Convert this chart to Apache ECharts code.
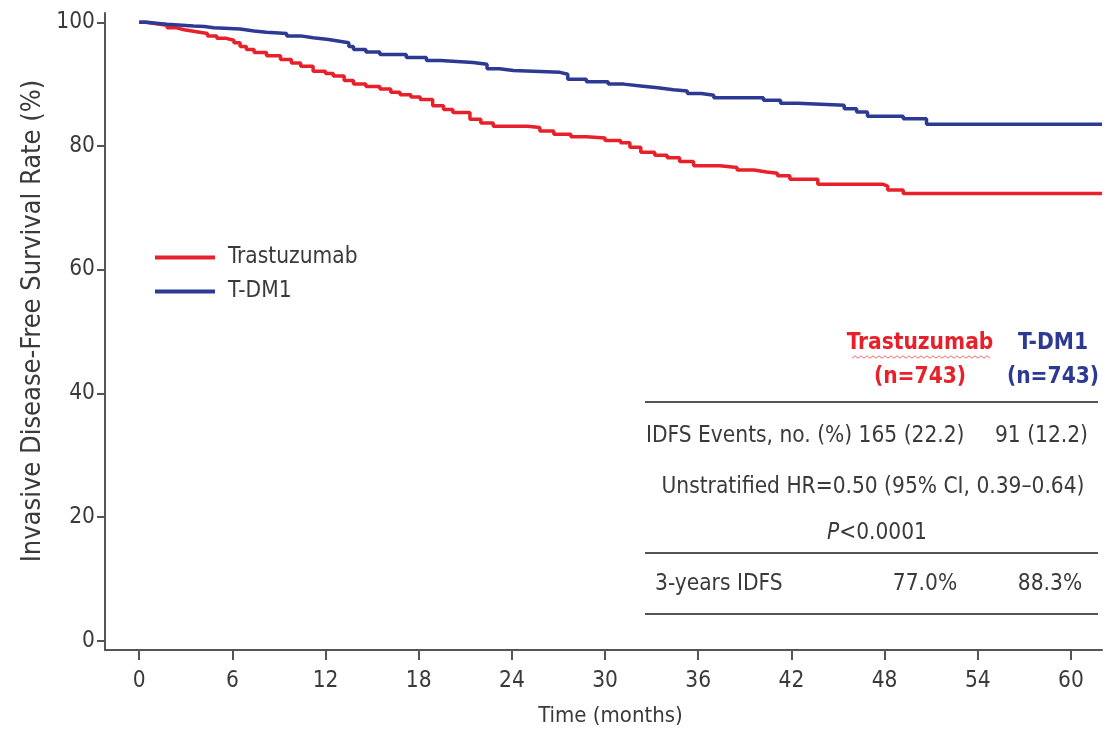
<!DOCTYPE html>
<html>
<head>
<meta charset="utf-8">
<script src="https://cdn.jsdelivr.net/npm/echarts@6/dist/echarts.min.js"></script>
<style>
html,body{margin:0;padding:0;background:#fff;}
#chart{width:1115px;height:732px;}
</style>
</head>
<body>
<div id="chart"></div>
<script>
// ---- data ----
const xTicks = [0, 6, 12, 18, 24, 30, 36, 42, 48, 54, 60];
const yTicks = [0, 20, 40, 60, 80, 100];

const trastuzumabTime = [0, 0.5, 1, 1.8, 2.4, 2.9, 3.6, 4.4, 5.0, 5.6, 6.1, 6.5, 6.9, 7.4, 8.2, 9.1, 9.8, 10.4, 11.2, 12.0, 12.5, 13.2, 13.8, 14.6, 15.5, 16.2, 16.8, 17.5, 18.1, 18.9, 19.6, 20.2, 21.3, 22.0, 22.8, 25.0, 25.8, 26.7, 27.8, 28.8, 30.0, 31.0, 31.6, 32.3, 33.2, 34.0, 34.8, 35.7, 37.4, 38.5, 39.6, 40.4, 41.1, 41.9, 43.7, 47.9, 48.2, 49.2, 62];
const trastuzumabSurv = [100, 99.8, 99.5, 99.1, 98.8, 98.5, 98.2, 97.8, 97.4, 97.1, 96.7, 96.1, 95.6, 95.1, 94.6, 94.0, 93.4, 92.9, 92.1, 91.7, 91.3, 90.6, 90.0, 89.6, 89.2, 88.7, 88.3, 87.9, 87.5, 86.5, 85.9, 85.4, 84.3, 83.7, 83.2, 83.0, 82.4, 81.9, 81.5, 81.3, 80.9, 80.5, 79.8, 79.0, 78.5, 78.1, 77.5, 76.8, 76.5, 76.1, 75.8, 75.6, 75.2, 74.6, 73.8, 73.5, 72.9, 72.3, 72.3];

const tdm1Time = [0, 0.4, 1.8, 3.5, 4.2, 4.8, 6.5, 7.4, 8.2, 9.5, 10.4, 11.2, 12.2, 13.0, 13.5, 13.8, 14.6, 15.5, 17.2, 18.5, 19.4, 21.5, 22.4, 23.2, 24.1, 27.1, 27.6, 28.8, 30.2, 31.2, 32.3, 33.4, 34.4, 35.3, 36.2, 37.0, 40.2, 41.3, 42.4, 45.4, 46.2, 46.9, 49.2, 50.7, 62];
const tdm1Surv = [100, 99.7, 99.4, 99.3, 99.1, 98.9, 98.6, 98.4, 98.2, 97.8, 97.5, 97.2, 96.9, 96.7, 96.1, 95.6, 95.2, 94.8, 94.3, 93.8, 93.5, 93.2, 92.5, 92.2, 91.9, 91.6, 90.8, 90.4, 90.0, 89.7, 89.4, 89.1, 88.9, 88.5, 88.2, 87.8, 87.4, 86.9, 86.6, 86.0, 85.5, 84.8, 84.4, 83.5, 83.5];

const seriesNames = ['Trastuzumab', 'T-DM1'];
const armHeaders = ['Trastuzumab', 'T-DM1'];
const armN = ['(n=743)', '(n=743)'];
const idfsEvents = ['165 (22.2)', '91 (12.2)'];
const threeYearIdfs = ['77.0%', '88.3%'];
const hrText = 'Unstratified HR=0.50 (95% CI, 0.39\u20130.64)';
const pText = '<0.0001';

// ---- styling ----
const RED = '#E8202A';
const BLUE = '#2D3A93';
const TXT = '#3a3a3a';
const AX = '#555555';
const FONT = "'Liberation Sans Narrow', 'Arial Narrow', 'DejaVu Sans Condensed', sans-serif";
const FS = 22.5;
const TFS = 22.5;

function zip(t, s) { return t.map((v, i) => [v, s[i]]); }

const chart = echarts.init(document.getElementById('chart'), null, {renderer: 'canvas'});

function txt(x, y, text, align, extra) {
  return {
    type: 'text', x: x, y: y, silent: true,
    style: Object.assign({text: text, textAlign: align || 'left', textVerticalAlign: 'middle',
      fontFamily: FONT, fontSize: TFS, fill: TXT}, extra || {})
  };
}
function hline(y) {
  return {type: 'line', silent: true, shape: {x1: 645, y1: y, x2: 1098, y2: y}, style: {stroke: AX, lineWidth: 2}};
}
// decorative wavy underline under the red header (as in the reference image)
const wave = [];
for (let x = 852; x <= 990; x += 3) wave.push([x, 357 + ((x / 3) % 2 === 0 ? 1.2 : -1.2)]);

const option = {
  animation: false,
  backgroundColor: '#ffffff',
  grid: {left: 105, right: 13, top: 13, bottom: 82, containLabel: false},
  legend: {
    orient: 'vertical', left: 150, top: 240,
    itemWidth: 60, itemHeight: 4, itemGap: 9,
    icon: 'rect',
    textStyle: {fontFamily: FONT, fontSize: FS, color: TXT, padding: [0, 0, 0, 8], lineHeight: 25},
    data: seriesNames
  },
  xAxis: {
    type: 'value', min: -2.2, max: 62,
    name: 'Time (months)', nameLocation: 'middle', nameGap: 55,
    nameTextStyle: {fontFamily: FONT, fontSize: 22, color: TXT, padding: [0, 0, 0, 14]},
    axisLine: {show: true, onZero: false, lineStyle: {color: AX, width: 2}},
    axisTick: {show: true, length: 10, customValues: xTicks, lineStyle: {color: AX, width: 2}},
    axisLabel: {customValues: xTicks, fontFamily: FONT, fontSize: FS, color: TXT, margin: 20},
    splitLine: {show: false}
  },
  yAxis: {
    type: 'value', min: -1.5, max: 101.5,
    axisLine: {show: true, onZero: false, lineStyle: {color: AX, width: 2}},
    axisTick: {show: true, length: 8, customValues: yTicks, lineStyle: {color: AX, width: 2}},
    axisLabel: {customValues: yTicks, fontFamily: FONT, fontSize: FS, color: TXT, margin: 10},
    splitLine: {show: false}
  },
  series: [
    {name: seriesNames[0], type: 'line', step: 'end', symbol: 'none', data: zip(trastuzumabTime, trastuzumabSurv),
     lineStyle: {color: RED, width: 3.5}, itemStyle: {color: RED}},
    {name: seriesNames[1], type: 'line', step: 'end', symbol: 'none', data: zip(tdm1Time, tdm1Surv),
     lineStyle: {color: BLUE, width: 3.5}, itemStyle: {color: BLUE}}
  ],
  graphic: [
    {type: 'text', silent: true, x: 33, y: 321, rotation: Math.PI / 2,
     style: {text: 'Invasive Disease-Free Survival Rate (%)', fontFamily: FONT, fontSize: 27, fill: TXT, textAlign: 'center', textVerticalAlign: 'middle'}},
    txt(920, 343, armHeaders[0], 'center', {fill: RED, fontWeight: 'bold'}),
    txt(920, 377, armN[0], 'center', {fill: RED, fontWeight: 'bold'}),
    txt(1053, 343, armHeaders[1], 'center', {fill: BLUE, fontWeight: 'bold'}),
    txt(1053, 377, armN[1], 'center', {fill: BLUE, fontWeight: 'bold'}),
    {type: 'polyline', silent: true, shape: {points: wave}, style: {stroke: '#f06a6a', lineWidth: 1, fill: null}},
    hline(402),
    txt(646, 436, 'IDFS Events, no. (%) ' + idfsEvents[0], 'left'),
    txt(1088, 436, idfsEvents[1], 'right'),
    txt(873, 487, hrText, 'center'),
    {type: 'text', silent: true, x: 877, y: 533,
     style: {text: '{i|P}' + pText, textAlign: 'center', textVerticalAlign: 'middle', fontFamily: FONT, fontSize: TFS, fill: TXT,
       rich: {i: {fontStyle: 'italic', fontFamily: FONT, fontSize: TFS, fill: TXT}}}},
    hline(553),
    txt(655, 584, '3-years IDFS', 'left'),
    txt(925, 584, threeYearIdfs[0], 'center'),
    txt(1050, 584, threeYearIdfs[1], 'center'),
    hline(614)
  ]
};
chart.setOption(option);
</script>
</body>
</html>
